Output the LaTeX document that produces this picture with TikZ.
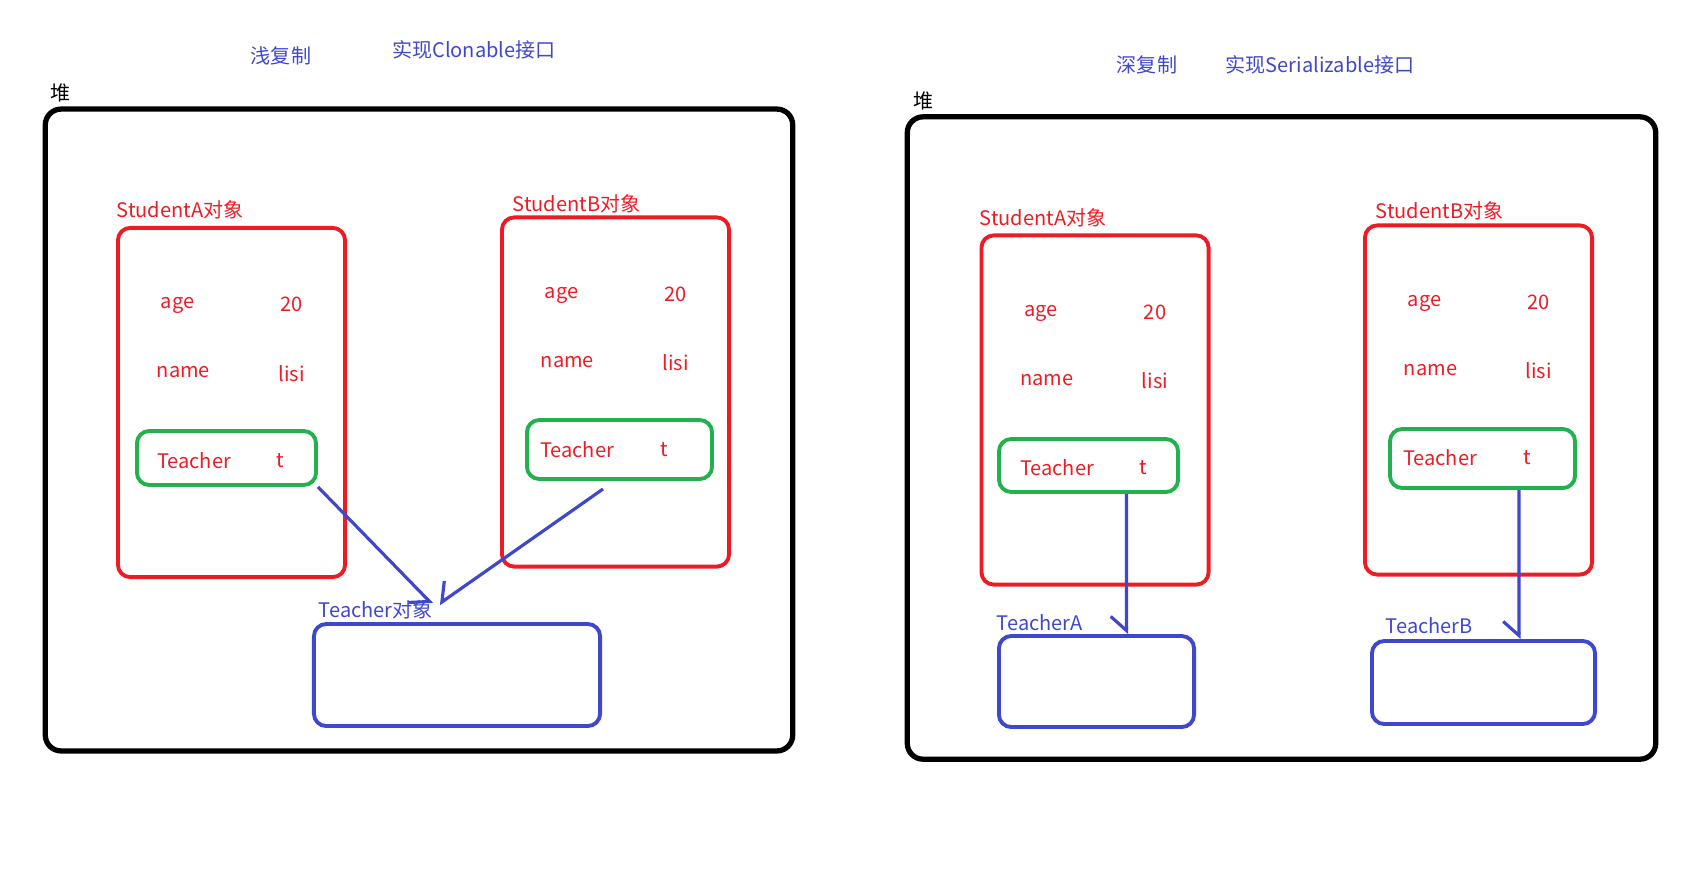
\documentclass[tikz,border=0pt]{standalone}
\usepackage{fontspec}
\setmainfont{Noto Sans CJK SC}
\usetikzlibrary{arrows.meta}

\begin{document}
\begin{tikzpicture}[x=0.01cm,y=-0.01cm,
  txt/.style={inner sep=1pt,font=\fontsize{5.7}{6.8}\selectfont},
  heapbox/.style={draw=black,line width=1.5pt,rounded corners=4.5pt},
  stubox/.style={draw=pred,line width=1.1pt,rounded corners=3.5pt,minimum width=2.27cm,minimum height=3.49cm},
  refbox/.style={draw=pgreen,line width=1.1pt,rounded corners=3.5pt},
  tchbox/.style={draw=pblue,line width=1.1pt,rounded corners=3.5pt},
  ptr/.style={draw=pblue,line width=0.9pt},
  tipr/.style={-{Straight Barb[harpoon,swap,length=4pt,width=9pt]}},
  tipl/.style={-{Straight Barb[harpoon,length=4pt,width=9pt]}}]
\definecolor{pred}{HTML}{ED1C24}
\definecolor{pgreen}{HTML}{22B14C}
\definecolor{pblue}{HTML}{3F48CC}
\useasboundingbox (0,0) rectangle (1700,869);
% titles
\node[txt,pblue] (shallow) at (281,56) {浅复制};
\node[txt,pblue] (clonable) at (474,50) {实现Clonable接口};
\node[txt,pblue] (deep) at (1147,65) {深复制};
\node[txt,pblue] (serial) at (1320,65) {实现Serializable接口};
% heaps
\node[txt,anchor=west] (heapLname) at (46,93) {堆};
\node[txt,anchor=west] (heapRname) at (909,101) {堆};
\node[heapbox,minimum width=7.47cm,minimum height=6.415cm] (heapL) at (419,430) {};
\node[heapbox,minimum width=7.48cm,minimum height=6.42cm] (heapR) at (1281.5,438) {};
% student objects
\foreach \nm/\cx/\cy in {lA/231.5/402.5,lB/615.5/392,rA/1095/410,rB/1478.5/400}
{ \node[stubox] (\nm) at (\cx,\cy) {};
  \node[txt,pred] (age\nm) at ({\cx-54},{\cy-97}) {age};
  \node[txt,pred] (ageval\nm) at ({\cx+60},{\cy-98}) {20};
  \node[txt,pred] (name\nm) at ({\cx-48},{\cy-30}) {name};
  \node[txt,pred] (nameval\nm) at ({\cx+60},{\cy-29}) {lisi};}
\node[txt,pred,anchor=west] (lAname) at (112.5,210) {StudentA对象};
\node[txt,pred,anchor=west] (lBname) at (508.5,204) {StudentB对象};
\node[txt,pred,anchor=west] (rAname) at (975.5,218) {StudentA对象};
\node[txt,pred,anchor=west] (rBname) at (1371.5,211) {StudentB对象};
% teacher fields
\node[refbox,minimum width=1.79cm,minimum height=0.54cm] (glA) at (226.5,458) {};
\node[refbox,minimum width=1.85cm,minimum height=0.59cm] (glB) at (619.5,449.5) {};
\node[refbox,minimum width=1.79cm,minimum height=0.53cm] (grA) at (1088.5,465.5) {};
\node[refbox,minimum width=1.85cm,minimum height=0.59cm] (grB) at (1482.5,458.5) {};
\foreach \nm/\ax/\bx/\ty in {lA/194/280/461,lB/577/664/450,rA/1057/1143/468,rB/1440/1527/458}
{ \node[txt,pred] (tch\nm) at (\ax,\ty) {Teacher};
  \node[txt,pred] (tvar\nm) at (\bx,\ty) {t};}
% teacher objects
\node[tchbox,minimum width=2.86cm,minimum height=1.02cm] (tO) at (457,675) {};
\node[tchbox,minimum width=1.95cm,minimum height=0.91cm] (tA) at (1096.5,681.5) {};
\node[tchbox,minimum width=2.23cm,minimum height=0.83cm] (tB) at (1483.5,682.5) {};
\node[txt,pblue,anchor=west] (tOname) at (314.5,610) {Teacher对象};
\node[txt,pblue,anchor=west] (tAname) at (992.5,623) {TeacherA};
\node[txt,pblue,anchor=west] (tBname) at (1381.5,626) {TeacherB};
% references
\coordinate (hitO) at (432,604);
\coordinate (fromlB) at (603,489);
\draw[ptr,tipr] (glA.south east) -- (hitO);
\draw[ptr,tipr] (fromlB) -- ([xshift=0.07cm]hitO);
\draw[ptr,tipr] ([xshift=0.38cm]grA.south) -- ([xshift=0.3cm]tA.north);
\draw[ptr,tipr] ([xshift=0.365cm]grB.south) -- ([xshift=0.355cm]tB.north);
\end{tikzpicture}
\end{document}
